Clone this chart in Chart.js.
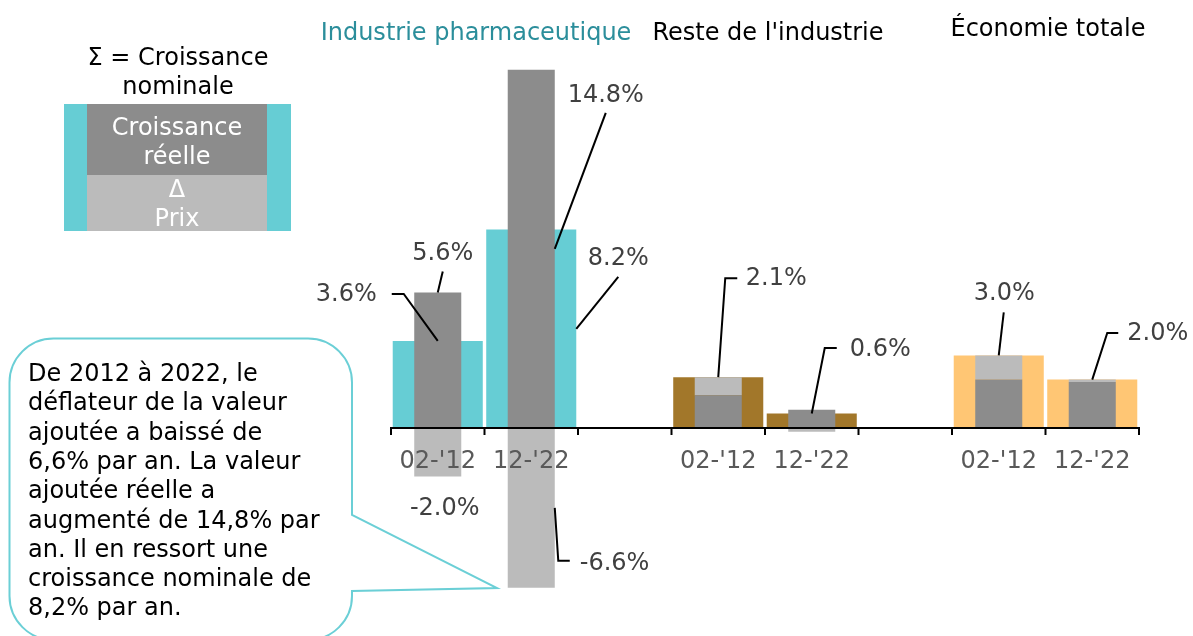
<!DOCTYPE html>
<html><head><meta charset="utf-8">
<script src="https://cdn.jsdelivr.net/npm/chart.js@4.4.0/dist/chart.umd.min.js"></script>
<style>html,body{margin:0;padding:0;background:#fff;overflow:hidden}canvas{display:block}</style>
</head><body>
<canvas id="c" width="1193" height="636"></canvas>
<script>
// ---- data ----
const categories = ["02-'12", "12-'22", "", "02-'12", "12-'22", "", "02-'12", "12-'22"];
const nominalGrowth = [3.6, 8.2, null, 2.1, 0.6, null, 3.0, 2.0];
const realGrowth    = [5.6, 14.8, null, 1.35, 0.75, null, 2.0, 1.9];
const priceChange   = [-2.0, -6.6, null, 0.75, -0.15, null, 1.0, 0.1];
const groupTitles = ["Industrie pharmaceutique", "Reste de l'industrie", "Économie totale"];
const legendTitle = ["Σ = Croissance", "nominale"];
const legendReal = ["Croissance", "réelle"];
const legendPrice = ["Δ", "Prix"];
const calloutLines = [
  "De 2012 à 2022, le",
  "déflateur de la valeur",
  "ajoutée a baissé de",
  "6,6% par an. La valeur",
  "ajoutée réelle a",
  "augmenté de 14,8% par",
  "an. Il en ressort une",
  "croissance nominale de",
  "8,2% par an."
];

// ---- styles ----
const CYAN = '#66CDD4', BROWN = '#A2772A', ORANGE = '#FFC674';
const DARK = '#8C8C8C', LIGHT = '#BBBBBB';
const nominalColors = [CYAN, CYAN, null, BROWN, BROWN, null, ORANGE, ORANGE];
const FONT = '24px "DejaVu Sans"';

// label placement: dataset key, index, anchor y ('end'|'mid'), anchor x ('c'|'r'), leader offsets, text offset, align
const labelSpecs = [
  {ds:'nom',   i:0, ay:'end', ax:'c', path:[[-34,-47],[-46,-47]], t:[-61,-46], align:'right'},
  {ds:'real',  i:0, ay:'end', ax:'c', path:[[5,-21]], t:[5,-38.5], align:'center'},
  {ds:'real',  i:1, ay:'mid', ax:'r', path:[[51,-136]], t:[51,-153], align:'center'},
  {ds:'nom',   i:1, ay:'mid', ax:'r', path:[[42,-52]], t:[42,-70], align:'center'},
  {ds:'price', i:0, ay:'end', ax:'c', path:[], t:[7,32], align:'center'},
  {ds:'price', i:1, ay:'mid', ax:'r', path:[[3.5,53],[15,53]], t:[25,55.5], align:'left'},
  {ds:'nom',   i:3, ay:'end', ax:'c', path:[[7,-99],[19,-99]], t:[27.5,-98], align:'left'},
  {ds:'nom',   i:4, ay:'end', ax:'c', path:[[13,-65.5],[25,-65.5]], t:[38,-64], align:'left'},
  {ds:'nom',   i:6, ay:'end', ax:'c', path:[[5,-43]], t:[5.5,-62], align:'center'},
  {ds:'nom',   i:7, ay:'end', ax:'c', path:[[15,-46.6],[26,-46.6]], t:[35,-45.6], align:'left'}
];
const dsIndex = {real:0, price:1, nom:2};
const dsData = {real: realGrowth, price: priceChange, nom: nominalGrowth};

const decor = {
  id: 'decor',
  afterDatasetsDraw(chart) {
    const ctx = chart.ctx;
    const xs = chart.scales.x, ys = chart.scales.y;
    const y0 = ys.getPixelForValue(0);
    const half = (xs.getPixelForValue(1) - xs.getPixelForValue(0)) / 2;
    ctx.save();
    // axis line
    ctx.strokeStyle = '#000'; ctx.lineWidth = 2;
    ctx.beginPath();
    ctx.moveTo(chart.chartArea.left - 1, y0); ctx.lineTo(chart.chartArea.right + 1, y0);
    ctx.stroke();
    // tick marks at category boundaries
    for (let i = 0; i <= categories.length; i++) {
      const bx = xs.getPixelForValue(Math.min(i, categories.length - 1)) + (i === categories.length ? half : -half);
      ctx.beginPath(); ctx.moveTo(bx, y0 - 1); ctx.lineTo(bx, y0 + 7); ctx.stroke();
    }
    // tick labels
    ctx.font = FONT; ctx.fillStyle = '#595959'; ctx.textAlign = 'center'; ctx.textBaseline = 'alphabetic';
    categories.forEach((c, i) => { if (c) ctx.fillText(c, xs.getPixelForValue(i), y0 + 40); });
    // value labels with leaders
    ctx.lineWidth = 2; ctx.strokeStyle = '#000';
    labelSpecs.forEach(s => {
      const el = chart.getDatasetMeta(dsIndex[s.ds]).data[s.i];
      const ax = s.ax === 'r' ? el.x + el.width / 2 : el.x;
      const ay = s.ay === 'mid' ? (el.y + el.base) / 2 : el.y;
      if (s.path.length) {
        ctx.beginPath(); ctx.moveTo(ax, ay);
        s.path.forEach(p => ctx.lineTo(ax + p[0], ay + p[1]));
        ctx.stroke();
      }
      ctx.fillStyle = '#404040'; ctx.textAlign = s.align; ctx.textBaseline = 'middle';
      ctx.fillText(dsData[s.ds][s.i].toFixed(1) + '%', ax + s.t[0], ay + s.t[1]);
    });
    ctx.restore();
  },
  afterDraw(chart) {
    const ctx = chart.ctx;
    ctx.save();
    ctx.font = FONT; ctx.textBaseline = 'alphabetic'; ctx.textAlign = 'center';
    // group titles
    ctx.fillStyle = '#2B8E9B'; ctx.fillText(groupTitles[0], 476, 40);
    ctx.fillStyle = '#000'; ctx.fillText(groupTitles[1], 768, 40);
    ctx.fillText(groupTitles[2], 1048, 36);
    // legend box
    ctx.fillStyle = '#000';
    ctx.fillText(legendTitle[0], 178, 65);
    ctx.fillText(legendTitle[1], 178, 94);
    ctx.fillStyle = CYAN; ctx.fillRect(64, 104, 227, 127);
    ctx.fillStyle = DARK; ctx.fillRect(87, 104, 180, 71);
    ctx.fillStyle = LIGHT; ctx.fillRect(87, 175, 180, 56);
    ctx.fillStyle = '#fff';
    ctx.fillText(legendReal[0], 177, 135);
    ctx.fillText(legendReal[1], 177, 164);
    ctx.fillText(legendPrice[0], 177, 197);
    ctx.fillText(legendPrice[1], 177, 226);
    // callout bubble
    const L = 9.5, T = 338.5, R = 352, B = 640, r = 44;
    ctx.beginPath();
    ctx.moveTo(L + r, T);
    ctx.lineTo(R - r, T); ctx.arcTo(R, T, R, T + r, r);
    ctx.lineTo(R, 515); ctx.lineTo(497, 588); ctx.lineTo(R, 591);
    ctx.lineTo(R, B - r); ctx.arcTo(R, B, R - r, B, r);
    ctx.lineTo(L + r, B); ctx.arcTo(L, B, L, B - r, r);
    ctx.lineTo(L, T + r); ctx.arcTo(L, T, L + r, T, r);
    ctx.closePath();
    ctx.fillStyle = '#fff'; ctx.fill();
    ctx.strokeStyle = '#6BCFD6'; ctx.lineWidth = 2; ctx.stroke();
    ctx.fillStyle = '#000'; ctx.textAlign = 'left';
    calloutLines.forEach((l, k) => ctx.fillText(l, 28, 381 + k * 29.3));
    ctx.restore();
  }
};

new Chart(document.getElementById('c'), {
  type: 'bar',
  data: {
    labels: categories,
    datasets: [
      {label: 'Croissance réelle', data: realGrowth, stack: 'g', order: 0, grouped: false,
       backgroundColor: DARK, barPercentage: 0.503, categoryPercentage: 1},
      {label: 'Δ Prix', data: priceChange, stack: 'g', order: 0, grouped: false,
       backgroundColor: LIGHT, barPercentage: 0.503, categoryPercentage: 1},
      {label: 'Croissance nominale', data: nominalGrowth, stack: 'n', order: 1, grouped: false,
       backgroundColor: nominalColors, barPercentage: 0.963, categoryPercentage: 1}
    ]
  },
  options: {
    responsive: false, animation: false, devicePixelRatio: 1,
    layout: {padding: {left: 391, right: 54, top: 65, bottom: 38.6}},
    plugins: {legend: {display: false}, tooltip: {enabled: false}},
    scales: {
      x: {type: 'category', display: false, stacked: true, offset: true},
      y: {display: false, stacked: true, min: -7, max: 15}
    }
  },
  plugins: [decor]
});
</script>
</body></html>
